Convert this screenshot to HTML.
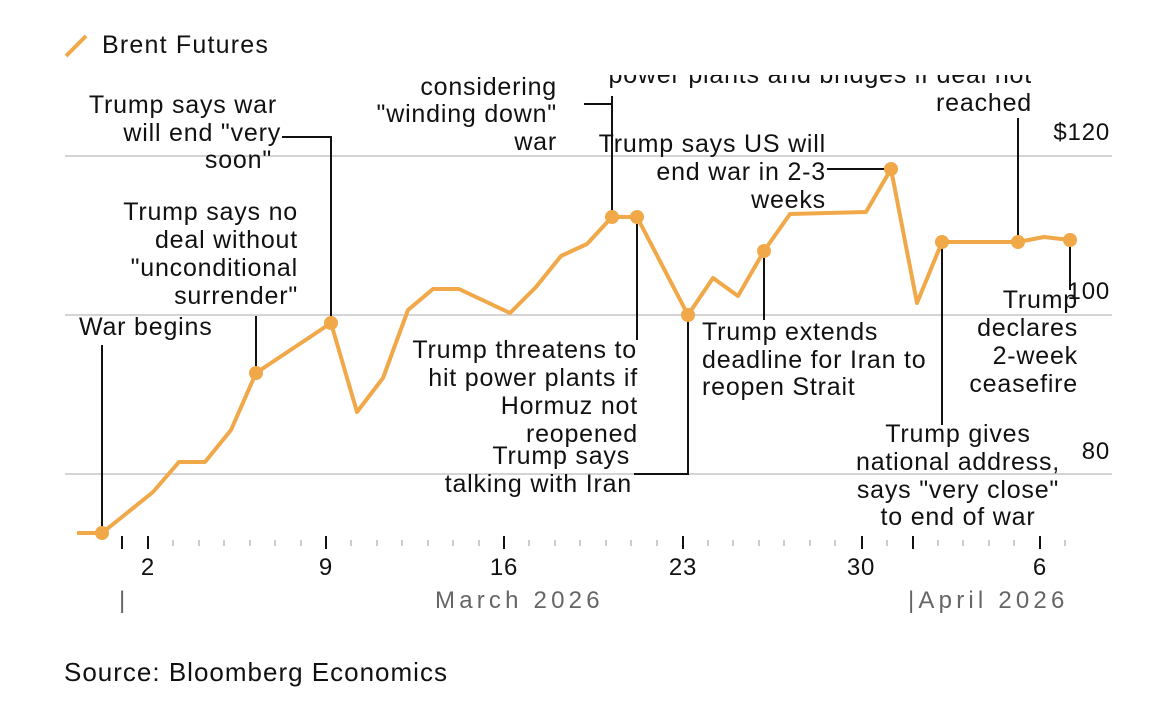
<!DOCTYPE html><html><head><style>
body{margin:0;background:#fff;width:1170px;height:698px;overflow:hidden;font-family:"Liberation Sans",sans-serif}
svg text{font-family:"Liberation Sans",sans-serif;letter-spacing:0.8px}
svg text.m{letter-spacing:4.2px}
svg text.s{letter-spacing:1px}
svg text.l{letter-spacing:1.2px}
</style></head><body>
<svg width="1170" height="698" viewBox="0 0 1170 698">
<line x1="66" y1="56" x2="86" y2="36" stroke="#f0a848" stroke-width="4"/>
<text class="l" x="102" y="53" font-size="25" fill="#111">Brent Futures</text>
<g stroke="#d4d4d4" stroke-width="2">
<line x1="65" y1="156" x2="1112" y2="156"/><line x1="65" y1="315" x2="1112" y2="315"/><line x1="65" y1="474" x2="1112" y2="474"/>
</g>
<g font-size="24" fill="#111" text-anchor="end">
<text x="1110" y="140">$120</text><text x="1110" y="299">100</text><text x="1110" y="459">80</text>
</g>
<g stroke="#111" stroke-width="2" fill="none">
<line x1="102" y1="533" x2="102" y2="345"/>
<line x1="256" y1="373" x2="256" y2="316"/>
<polyline points="331,323 331,137 282,137"/>
<line x1="612" y1="217" x2="612" y2="96"/>
<polyline points="584,104 612,104"/>
<line x1="637" y1="217" x2="637" y2="340"/>
<polyline points="688,315 688,474 634,474"/>
<line x1="764" y1="251" x2="764" y2="320"/>
<polyline points="827,169 891,169"/>
<line x1="942" y1="242" x2="942" y2="425"/>
<line x1="1018" y1="242" x2="1018" y2="118"/>
<line x1="1070" y1="240" x2="1070" y2="290"/>
</g>
<polyline fill="none" stroke="#f0a848" stroke-width="4" stroke-linejoin="round" points="77,533 102,533 127,513 153,492 179,462 205,462 231,430 256,373 331,323 357,412 383,378 408,310 433,289 459,289 510,313 536,287 561,256 587,244 612,217 637,217 688,315 713,278 738,296 764,251 790,214 866,212 891,169 917,303 942,242 1018,242 1044,237 1070,240"/>
<g fill="#f0a848">
<circle cx="102" cy="533" r="7"/><circle cx="256" cy="373" r="7"/><circle cx="331" cy="323" r="7"/><circle cx="612" cy="217" r="7"/><circle cx="637" cy="217" r="7"/><circle cx="688" cy="315" r="7"/><circle cx="764" cy="251" r="7"/><circle cx="891" cy="169" r="7"/><circle cx="942" cy="242" r="7"/><circle cx="1018" cy="242" r="7"/><circle cx="1070" cy="240" r="7"/>
</g>
<g font-size="25" fill="#111">
<text x="79" y="335">War begins</text>
<g text-anchor="end">
<text x="298" y="220">Trump says no</text><text x="298" y="248">deal without</text><text x="298" y="276">"unconditional</text><text x="298" y="304">surrender"</text>
<text x="277" y="113">Trump says war</text><text x="281" y="141">will end "very</text><text x="272" y="168">soon"</text>
<text x="557" y="95">considering</text><text x="557" y="122">"winding down"</text><text x="557" y="150">war</text>
<text x="1032" y="83">power plants and bridges if deal not</text><text x="1032" y="111">reached</text>
<text x="826" y="152">Trump says US will</text><text x="826" y="180">end war in 2-3</text><text x="826" y="208">weeks</text>
<text x="637" y="358">Trump threatens to</text><text x="638" y="386">hit power plants if</text><text x="638" y="414">Hormuz not</text><text x="638" y="442">reopened</text>
<text x="630" y="464">Trump says</text><text x="632" y="492">talking with Iran</text>
<text x="1078" y="308">Trump</text><text x="1078" y="336">declares</text><text x="1078" y="364">2-week</text><text x="1078" y="392">ceasefire</text>
</g>
<text x="702" y="340">Trump extends</text><text x="702" y="368">deadline for Iran to</text><text x="702" y="395">reopen Strait</text>
<g text-anchor="middle">
<text x="958" y="442">Trump gives</text><text x="958" y="470">national address,</text><text x="958" y="498">says "very close"</text><text x="958" y="525">to end of war</text>
</g>
</g>
<rect x="580" y="0" width="470" height="75" fill="#fff"/>
<g stroke="#ccc" stroke-width="2">
<line x1="173" y1="540" x2="173" y2="546"/><line x1="199" y1="540" x2="199" y2="546"/><line x1="224" y1="540" x2="224" y2="546"/><line x1="250" y1="540" x2="250" y2="546"/><line x1="275" y1="540" x2="275" y2="546"/><line x1="301" y1="540" x2="301" y2="546"/>
<line x1="351" y1="540" x2="351" y2="546"/><line x1="377" y1="540" x2="377" y2="546"/><line x1="402" y1="540" x2="402" y2="546"/><line x1="428" y1="540" x2="428" y2="546"/><line x1="453" y1="540" x2="453" y2="546"/><line x1="479" y1="540" x2="479" y2="546"/>
<line x1="529" y1="540" x2="529" y2="546"/><line x1="555" y1="540" x2="555" y2="546"/><line x1="580" y1="540" x2="580" y2="546"/><line x1="606" y1="540" x2="606" y2="546"/><line x1="631" y1="540" x2="631" y2="546"/><line x1="657" y1="540" x2="657" y2="546"/>
<line x1="708" y1="540" x2="708" y2="546"/><line x1="733" y1="540" x2="733" y2="546"/><line x1="759" y1="540" x2="759" y2="546"/><line x1="784" y1="540" x2="784" y2="546"/><line x1="810" y1="540" x2="810" y2="546"/><line x1="835" y1="540" x2="835" y2="546"/>
<line x1="887" y1="540" x2="887" y2="546"/><line x1="938" y1="540" x2="938" y2="546"/><line x1="963" y1="540" x2="963" y2="546"/><line x1="989" y1="540" x2="989" y2="546"/><line x1="1014" y1="540" x2="1014" y2="546"/><line x1="1065" y1="540" x2="1065" y2="546"/>
</g>
<g stroke="#111" stroke-width="2">
<line x1="122" y1="536" x2="122" y2="549"/><line x1="148" y1="536" x2="148" y2="549"/><line x1="326" y1="536" x2="326" y2="549"/><line x1="504" y1="536" x2="504" y2="549"/><line x1="683" y1="536" x2="683" y2="549"/><line x1="862" y1="536" x2="862" y2="549"/><line x1="913" y1="536" x2="913" y2="549"/><line x1="1040" y1="536" x2="1040" y2="549"/>
</g>
<g font-size="24" fill="#111" text-anchor="middle">
<text x="148" y="575">2</text><text x="326" y="575">9</text><text x="504" y="575">16</text><text x="683" y="575">23</text><text x="861" y="575">30</text><text x="1040" y="575">6</text>
</g>
<g font-size="24" fill="#666">
<text class="m" x="119" y="608">|</text><text class="m" x="435" y="608">March 2026</text><text class="m" x="908" y="608">|April 2026</text>
</g>
<text class="s" x="64" y="681" font-size="26" fill="#111">Source: Bloomberg Economics</text>
</svg>
</body></html>
